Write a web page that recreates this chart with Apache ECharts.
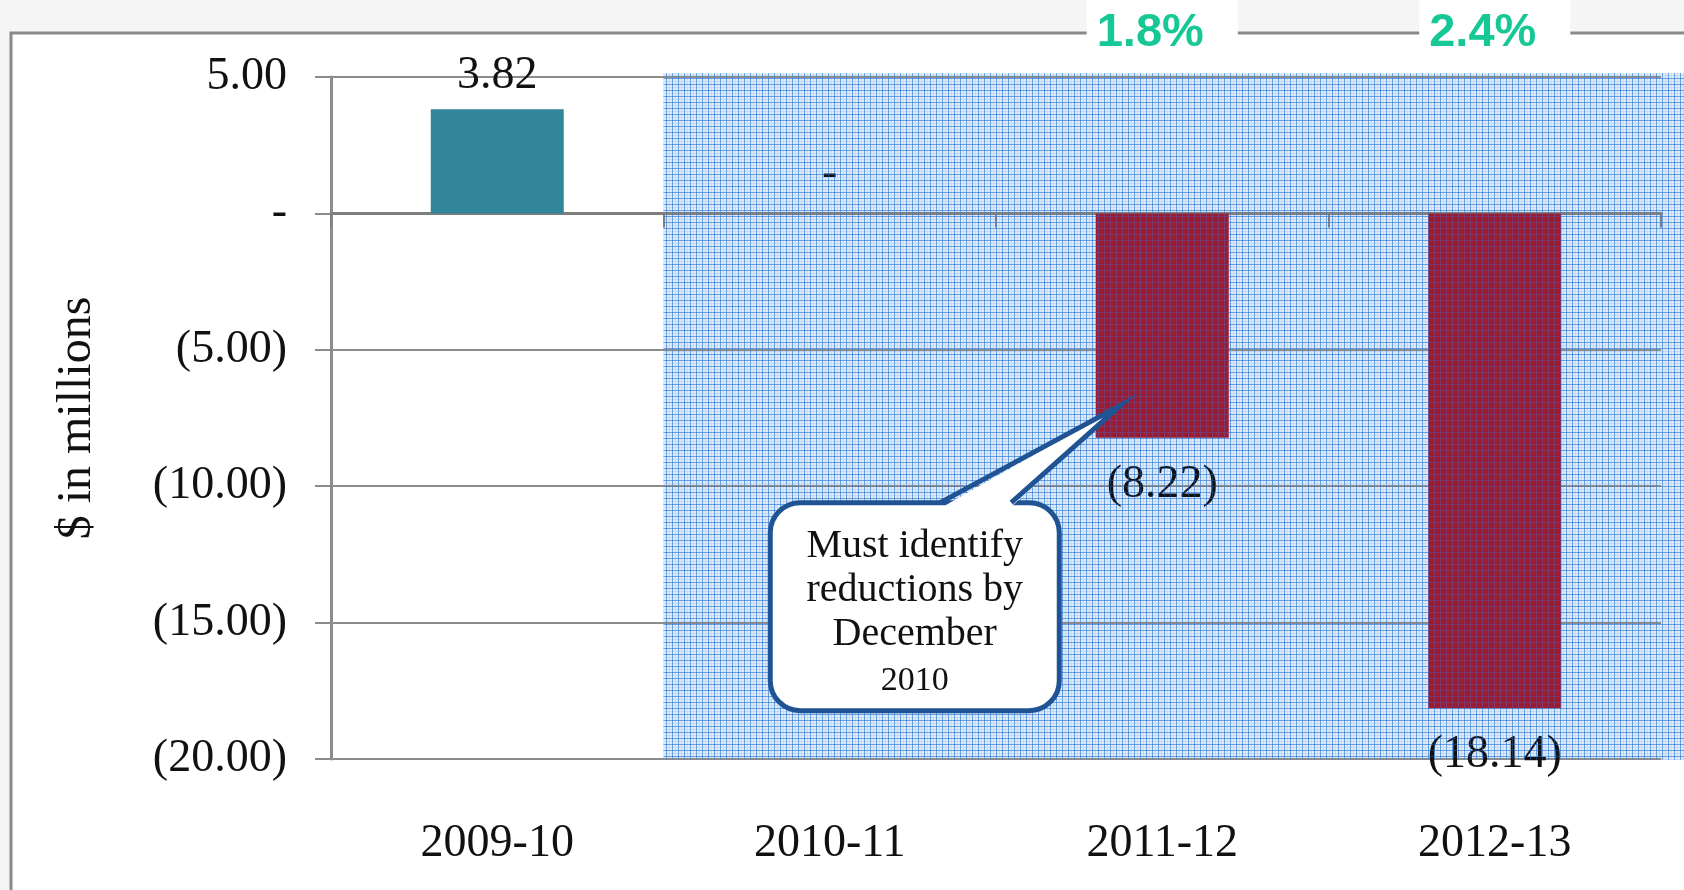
<!DOCTYPE html>
<html>
<head>
<meta charset="utf-8">
<title>Budget gap</title>
<script src="https://cdn.jsdelivr.net/npm/echarts@6/dist/echarts.min.js"></script>
<style>
  html, body { margin: 0; padding: 0; background: #f5f5f5; }
  #chart { width: 1684px; height: 890px; }
</style>
</head>
<body>
<div id="chart"></div>
<script>
const categories = ['2009-10', '2010-11', '2011-12', '2012-13'];
const gapValues = [3.82, 0, -8.22, -18.14];
const valueLabels = ['3.82', '-', '(8.22)', '(18.14)'];
const pctLabels = ['', '', '1.8%', '2.4%'];
const yTicks = [5, 0, -5, -10, -15, -20];
const yTickLabels = ['5.00', '-', '(5.00)', '(10.00)', '(15.00)', '(20.00)'];
const calloutLines = ['Must identify', 'reductions by', 'December'];
const calloutYear = '2010';

const serif = 'Liberation Serif';
const teal = '#31869b';
const red = '#9e1a30';
const gridGray = '#8c8c8c';

// plaid tile for the shaded (projected) years
function plaid(withBase) {
  const c = document.createElement('canvas');
  c.width = 6; c.height = 6;
  const ctx = c.getContext('2d');
  if (withBase) {
    ctx.fillStyle = '#e0ecf9';
    ctx.fillRect(0, 0, 6, 6);
    ctx.fillStyle = '#c3daf3';
    ctx.fillRect(3, 0, 1, 6);
    ctx.fillRect(0, 3, 6, 1);
    ctx.fillStyle = '#86b6ea';
    ctx.fillRect(0, 0, 1, 6);
    ctx.fillRect(0, 0, 6, 1);
    ctx.fillStyle = '#3f86d8';
    ctx.fillRect(0, 0, 1, 1);
  } else {
    ctx.fillStyle = 'rgba(50,120,215,0.35)';
    ctx.fillRect(0, 0, 1, 6);
    ctx.fillRect(1, 0, 5, 1);
  }
  return c;
}

const chart = echarts.init(document.getElementById('chart'));

const option = {
  backgroundColor: '#f5f5f5',
  animation: false,
  grid: { left: 331, right: 23, top: 77, bottom: 131, outerBoundsMode: 'none' },
  xAxis: [
    {
      // zero line with boundary ticks
      type: 'category',
      data: categories,
      axisLine: { onZero: true, lineStyle: { color: '#7f7f7f', width: 3 } },
      axisTick: { show: true, length: 14, lineStyle: { color: '#7f7f7f', width: 2 } },
      axisLabel: { show: false },
      splitLine: { show: false }
    },
    {
      // year labels along the bottom
      type: 'category',
      data: categories,
      position: 'bottom',
      axisLine: { show: false, onZero: false },
      axisTick: { show: false },
      axisLabel: { margin: 62, fontFamily: serif, fontSize: 46, color: '#111' }
    },
    {
      // growth percentages at the top
      type: 'category',
      data: categories,
      position: 'top',
      axisLine: { show: false, onZero: false },
      axisTick: { show: false },
      axisLabel: {
        margin: 24,
        formatter: (v, i) => pctLabels[i] ? '{p|' + pctLabels[i] + '}' : '',
        rich: {
          p: {
            fontFamily: 'Liberation Sans',
            fontWeight: 'bold',
            fontSize: 47,
            lineHeight: 50,
            color: '#17c896',
            backgroundColor: '#fff',
            padding: [14, 34, 4, 10]
          }
        }
      }
    }
  ],
  yAxis: {
    type: 'value',
    min: -20,
    max: 5,
    interval: 5,
    name: '$ in millions',
    nameLocation: 'middle',
    nameGap: 230,
    nameTextStyle: { fontFamily: serif, fontSize: 48, color: '#111' },
    axisLine: { show: true, lineStyle: { color: gridGray, width: 3 } },
    axisTick: { show: true, length: 16, lineStyle: { color: gridGray, width: 2 } },
    axisLabel: {
      margin: 44,
      fontFamily: serif,
      fontSize: 46,
      color: '#111',
      formatter: v => {
        const i = yTicks.indexOf(v);
        return i >= 0 ? yTickLabels[i] : '';
      }
    },
    splitLine: { lineStyle: { color: gridGray, width: 2 } }
  },
  series: [
    {
      type: 'bar',
      barWidth: '40%',
      data: gapValues.map(v => ({
        value: v,
        itemStyle: { color: v >= 0 ? teal : red },
        label: {
          position: v < 0 ? 'bottom' : 'top',
          distance: v < 0 ? 24 : (v === 0 ? 16 : 10)
        }
      })),
      label: {
        show: true,
        fontFamily: serif,
        fontSize: 46,
        color: '#111',
        formatter: p => valueLabels[p.dataIndex]
      }
    }
  ]
};

chart.setOption(option);

// decorations placed from the axes
const px = (c, v) => chart.convertToPixel({ gridIndex: 0 }, [c, v]);
const band = px(categories[2], 0)[0] - px(categories[1], 0)[0];
const shadeLeft = px(categories[1], 0)[0] - band / 2;
const shadeTop = px(categories[0], 5)[1] - 4;
const shadeBottom = px(categories[0], -20)[1] + 1;

const barEnd = px(categories[2], gapValues[2]);
const tip = [barEnd[0] - 42, barEnd[1] - 32];
const box = { x: tip[0] - 350, y: tip[1] + 97, width: 289, height: 208, r: 30 };
const baseL = tip[0] - 180;
const baseR = tip[0] - 109;
const boxCx = box.x + box.width / 2;

chart.setOption({
  graphic: [
    {
      type: 'rect', z: -10, silent: true,
      shape: { x: 11, y: 33, width: 1800, height: 1000 },
      style: { fill: '#fff', stroke: '#8a8a8a', lineWidth: 3 }
    },
    {
      type: 'rect', z: -5, silent: true,
      shape: { x: shadeLeft, y: shadeTop, width: 1684 - shadeLeft, height: shadeBottom - shadeTop },
      style: { fill: { image: plaid(true), repeat: 'repeat' } }
    },
    {
      type: 'rect', z: 5, silent: true,
      shape: { x: shadeLeft, y: shadeTop, width: 1684 - shadeLeft, height: shadeBottom - shadeTop },
      style: { fill: { image: plaid(false), repeat: 'repeat' } }
    },
    {
      type: 'rect', z: 20, silent: true,
      shape: box,
      style: { fill: '#fff', stroke: '#1f5393', lineWidth: 5 }
    },
    {
      type: 'polygon', z: 21, silent: true,
      shape: { points: [[baseL + 1, box.y + 5], tip, [baseR - 1, box.y + 5]] },
      style: { fill: '#fff' }
    },
    {
      type: 'polyline', z: 22, silent: true,
      shape: { points: [[baseL, box.y], tip, [baseR, box.y]] },
      style: { stroke: '#1f5393', lineWidth: 5, fill: null, lineJoin: 'miter' }
    },
    {
      type: 'text', z: 23, silent: true,
      x: boxCx, y: box.y + 22,
      style: {
        text: calloutLines.join('\n'),
        font: '40px "Liberation Serif"',
        lineHeight: 44,
        fill: '#111',
        align: 'center',
        verticalAlign: 'top'
      }
    },
    {
      type: 'text', z: 23, silent: true,
      x: boxCx, y: box.y + 178,
      style: {
        text: calloutYear,
        font: '34px "Liberation Serif"',
        fill: '#111',
        align: 'center',
        verticalAlign: 'middle'
      }
    }
  ]
});

window.addEventListener('resize', function () {
  chart.resize();
});
</script>
</body>
</html>
